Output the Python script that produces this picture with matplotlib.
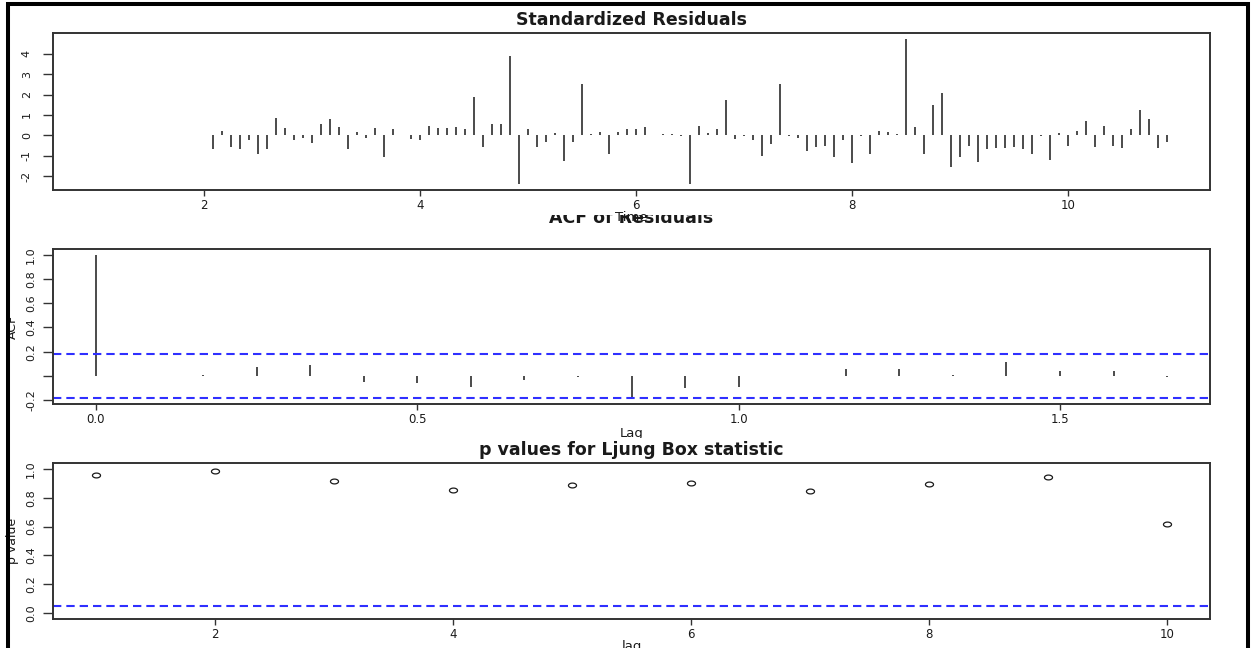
import numpy as np
import matplotlib
matplotlib.use("Agg")
import matplotlib.pyplot as plt
from matplotlib.patches import Rectangle
from matplotlib.path import Path
from matplotlib.transforms import Bbox, TransformedBbox

# ---------------------------------------------------------------- data
start_year = 1
frequency = 12

# standardized residuals, monthly, first 13 months are zero (differencing)
std_resid = [
    0.00, 0.00, 0.00, 0.00, 0.00, 0.00, 0.00, 0.00, 0.00, 0.00, 0.00, 0.00, 0.00,
    -0.67, 0.23, -0.57, -0.67, -0.25, -0.93, -0.67, 0.87, 0.38, -0.25, -0.13, -0.38,
    0.55, 0.80, 0.43, -0.67, 0.18, -0.13, 0.38, -1.07, 0.30, 0.00, -0.18, -0.25,
    0.48, 0.38, 0.38, 0.43, 0.30, 1.87, -0.57, 0.55, 0.55, 3.90, -2.40, 0.30,
    -0.57, -0.33, 0.10, -1.26, -0.33, 2.52, 0.05, 0.18, -0.93, 0.18, 0.30, 0.30,
    0.43, 0.00, 0.05, 0.05, -0.05, -2.40, 0.48, 0.10, 0.30, 1.75, -0.18, -0.05,
    -0.25, -1.00, -0.43, 2.52, -0.05, -0.13, -0.75, -0.57, -0.50, -1.07, -0.25, -1.38,
    -0.05, -0.93, 0.23, 0.18, 0.05, 4.74, 0.43, -0.93, 1.50, 2.07, -1.56, -1.07,
    -0.50, -1.31, -0.67, -0.62, -0.62, -0.57, -0.67, -0.93, -0.05, -1.20, 0.10, -0.50,
    0.23, 0.70, -0.57, 0.48, -0.50, -0.62, 0.30, 1.23, 0.80, -0.62, -0.33,
]

# autocorrelation of residuals, lags 0..20 (months)
acf_values = [
    1.000, 0.002, 0.005, 0.075, 0.087, -0.050, -0.058, -0.095, -0.030, -0.005,
    -0.184, -0.100, -0.095, 0.002, 0.060, 0.060, 0.005, 0.117, 0.040, 0.040, -0.005,
]
acf_ci = 0.179

# Ljung-Box p-values, lags 1..10
lb_lags = [1, 2, 3, 4, 5, 6, 7, 8, 9, 10]
lb_pvalues = [0.956, 0.983, 0.914, 0.856, 0.886, 0.903, 0.845, 0.896, 0.940, 0.621]
lb_level = 0.05

titles = ["Standardized Residuals", "ACF of Residuals", "p values for Ljung Box statistic"]

resid_xticks = [2, 4, 6, 8, 10]
resid_yticks = [-2, -1, 0, 1, 2, 3, 4]
resid_yticklabels = ["-2", "-1", "0", "1", "2", "3", "4"]
acf_xticks = [0.0, 0.5, 1.0, 1.5]
acf_xticklabels = ["0.0", "0.5", "1.0", "1.5"]
acf_yticks = [-0.2, 0.0, 0.2, 0.4, 0.6, 0.8, 1.0]
acf_yticklabels = ["-0.2", "", "0.2", "0.4", "0.6", "0.8", "1.0"]
lb_xticks = [2, 4, 6, 8, 10]
lb_yticks = [0.0, 0.2, 0.4, 0.6, 0.8, 1.0]
lb_yticklabels = ["0.0", "0.2", "0.4", "0.6", "0.8", "1.0"]

# ---------------------------------------------------------------- figure
W, H = 1256, 648
fig = plt.figure(figsize=(W / 100, H / 100), dpi=100)
fig.patch.set_facecolor("white")

FONT = "DejaVu Sans"
INK = "#1a1a1a"
SPINE = "#333333"
BLUE = "#2f2fff"


def px_axes(x0, y0, x1, y1):
    """Axes from pixel box (origin top-left)."""
    return fig.add_axes([x0 / W, 1 - y1 / H, (x1 - x0) / W, (y1 - y0) / H])


def clip_below(artist, y_px):
    """Hide whatever part of an artist lies above pixel row y_px."""
    artist.set_clip_box(TransformedBbox(Bbox.from_extents(0, 0, 1, 1 - y_px / H),
                                        fig.transFigure))
    artist.set_clip_on(True)


def clip_above(artist, y_px):
    """Hide whatever part of an artist lies below pixel row y_px."""
    artist.set_clip_box(TransformedBbox(Bbox.from_extents(0, 1 - y_px / H, 1, 1),
                                        fig.transFigure))
    artist.set_clip_on(True)


def style(ax):
    for s in ax.spines.values():
        s.set_linewidth(1.4)
        s.set_color(SPINE)
    ax.tick_params(axis="x", direction="out", length=4.3, width=1.0, color=SPINE,
                   pad=2.0, labelsize=8.5, labelcolor=INK)
    ax.tick_params(axis="y", direction="out", length=7.2, width=1.0, color=SPINE,
                   pad=5.0, labelsize=8, labelcolor=INK, labelrotation=90)
    for lab in ax.get_yticklabels():
        lab.set_verticalalignment("center")
        lab.set_fontfamily(FONT)
    for lab in ax.get_xticklabels():
        lab.set_fontfamily(FONT)


def r_limits(lo, hi, frac=0.04):
    d = (hi - lo) * frac
    return lo - d, hi + d


def heading(ax, text, y):
    return ax.set_title(text, fontfamily=FONT, fontweight="bold", fontsize=12.5,
                        y=y, pad=0, verticalalignment="center", color=INK)


# ---- panel 1: standardized residuals
ax1 = px_axes(53, 33, 1210, 190)
resid = np.asarray(std_resid)
time = start_year + np.arange(resid.size) / frequency
ax1.vlines(time, 0, resid, colors=INK, linewidth=1.1)
ax1.set_xlim(*r_limits(time.min(), time.max()))
ax1.set_ylim(*r_limits(resid.min(), resid.max()))
ax1.set_xticks(resid_xticks)
ax1.set_xticklabels([str(v) for v in resid_xticks])
ax1.set_yticks(resid_yticks)
ax1.set_yticklabels(resid_yticklabels)
style(ax1)
ax1.tick_params(axis="y", pad=8)
heading(ax1, titles[0], (190 - 20) / 157)
ax1.set_xlabel("Time", fontfamily=FONT, fontsize=9.5, color=INK)
ax1.xaxis.set_label_coords(0.5, (190 - 211) / 157)
ax1.xaxis.label.set_verticalalignment("top")

# ---- panel 2: ACF of residuals
ax2 = px_axes(53, 249, 1210, 404)
acf = np.asarray(acf_values)
lags = np.arange(acf.size) / frequency
ax2.vlines(lags, 0, acf, colors=INK, linewidth=1.1)
ax2.axhline(acf_ci, color=BLUE, linewidth=1.5, dashes=(4, 2.4))
ax2.axhline(-acf_ci, color=BLUE, linewidth=1.5, dashes=(4, 2.4))
ax2.set_xlim(*r_limits(lags.min(), lags.max()))
ax2.set_ylim(*r_limits(min(acf.min(), -acf_ci), max(acf.max(), acf_ci)))
ax2.set_xticks(acf_xticks)
ax2.set_xticklabels(acf_xticklabels)
ax2.set_yticks(acf_yticks)
ax2.set_yticklabels(acf_yticklabels)
style(ax2)
t2 = heading(ax2, titles[1], (404 - 218) / 155)
# top of this heading runs under the strip of the panel above
clip_below(t2, 215)
ax2.set_xlabel("Lag", fontfamily=FONT, fontsize=9.5, color=INK)
ax2.xaxis.set_label_coords(0.5, (404 - 427) / 155)
ax2.xaxis.label.set_verticalalignment("top")
clip_above(ax2.xaxis.label, 438)
ax2.set_ylabel("ACF", fontfamily=FONT, fontsize=9, color=INK)
ax2.yaxis.set_label_coords((18.5 - 53) / 1157, 0.5)

# ---- panel 3: Ljung-Box p-values
ax3 = px_axes(53, 463, 1210, 619)
theta = np.linspace(0, 2 * np.pi, 40)
oval = Path(np.column_stack([np.cos(theta), 0.6 * np.sin(theta)]))
ax3.plot(lb_lags, lb_pvalues, linestyle="none", marker=oval, markersize=5.8,
         markerfacecolor="none", markeredgecolor=INK, markeredgewidth=0.9)
ax3.axhline(lb_level, color=BLUE, linewidth=1.5, dashes=(4, 2.4))
ax3.set_xlim(*r_limits(min(lb_lags), max(lb_lags)))
ax3.set_ylim(*r_limits(0, 1))
ax3.set_xticks(lb_xticks)
ax3.set_xticklabels([str(v) for v in lb_xticks])
ax3.set_yticks(lb_yticks)
ax3.set_yticklabels(lb_yticklabels)
style(ax3)
heading(ax3, titles[2], (619 - 450) / 156)
ax3.set_xlabel("lag", fontfamily=FONT, fontsize=9.5, color=INK)
ax3.xaxis.set_label_coords(0.5, (619 - 640) / 156)
ax3.xaxis.label.set_verticalalignment("top")
ax3.set_ylabel("p value", fontfamily=FONT, fontsize=9, color=INK)
ax3.yaxis.set_label_coords((19 - 53) / 1157, 0.5)

# outer frame
fig.patches.append(Rectangle((8 / W, -0.05), (1248 - 8) / W, 1.05 - 4 / H,
                             transform=fig.transFigure, fill=False,
                             edgecolor="black", linewidth=2.9))

fig.savefig("out.png", dpi=100, facecolor="white")
